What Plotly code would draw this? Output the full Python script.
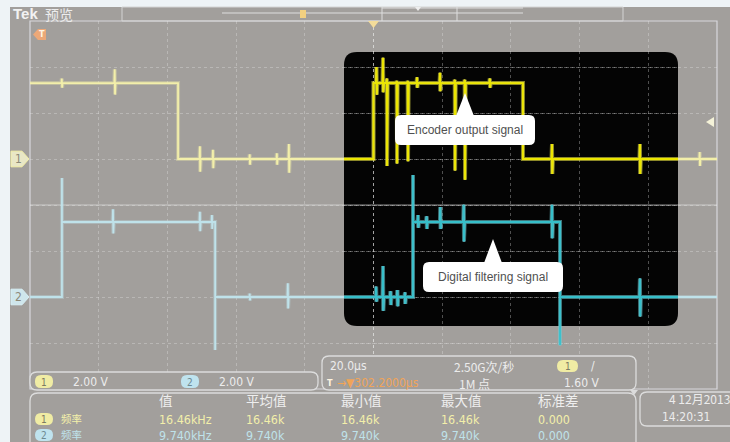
import plotly.graph_objects as go

W, H = 730, 442

# ---------------- data ----------------
T_RANGE = [-100.0, 100.0]        # µs  (20 µs/div, 10 div)
V_RANGE_DIV = [-4.0, 4.0]        # graticule divisions
V_PER_DIV = 2.0                  # both channels 2.00 V/div
CH1_POS = 1.0                    # channel ground marker position (div)
CH2_POS = -2.0

# channel 1 (encoder output)
CH1_EDGE_T = [-56.9, 0.0, 43.5]
CH1_LEVEL = [3.3, 0.0, 3.3, 0.0]
CH1_EDGE_PEAK = [None, None, None]
CH1_SPIKE_T = [-90.7, -75.3, -50.5, -46.7, -36.0, -28.1, -24.6, 0.9, 2.8, 3.9, 6.8, 10.0,
               12.7, 19.4, 23.7, 26.6, 33.9, 52.0, 77.6, 95.0]
CH1_SPIKE_UP = [0.2, 0.6, 0.55, 0.4, 0.2, 0.25, 0.65, 0.7, 1.1, 0.2, 0.1, 0.1,
                0.25, 0.45, 0.15, 0.15, 0.2, 0.65, 0.65, 0.3]
CH1_SPIKE_DN = [0.2, 0.5, 0.55, 0.4, 0.25, 0.25, 0.6, 0.5, 0.4, 3.6, 3.5, 3.4,
                0.2, 0.35, 3.8, 4.2, 0.2, 0.65, 0.65, 0.3]

# channel 2 (digital filtering output)
CH2_EDGE_T = [-90.7, -46.1, 11.5, 54.3]
CH2_LEVEL = [0.0, 3.26, 0.0, 3.26, 0.0]
CH2_EDGE_PEAK = [5.17, -2.3, 5.3, -2.1]
CH2_SPIKE_T = [-75.8, -50.5, -47.0, -36.0, -24.9, 0.8, 2.8, 5.0, 7.0, 9.2,
               13.0, 15.5, 19.5, 26.3, 52.0, 77.6]
CH2_SPIKE_UP = [0.55, 0.45, 0.3, 0.15, 0.6, 0.45, 1.35, 0.25, 0.3, 0.2,
                0.3, 0.25, 0.65, 0.75, 0.75, 0.8]
CH2_SPIKE_DN = [0.5, 0.4, 0.3, 0.15, 0.5, 0.2, 0.6, 0.35, 0.4, 0.3,
                0.25, 0.3, 0.3, 0.85, 0.7, 0.85]

SCALE_LABELS = ["2.00 V", "2.00 V"]
TIMEBASE = "20.0µs"
SAMPLE_RATE = "2.50G次/秒"
TRIG_POS = "302.2000µs"
RECORD_LEN = "1M 点"
TRIG_LEVEL = "1.60 V"
MEAS_HEADERS = ["值", "平均值", "最小值", "最大值", "标准差"]
MEAS_NAME = "频率"
MEAS_CH1 = ["16.46kHz", "16.46k", "16.46k", "16.46k", "0.000"]
MEAS_CH2 = ["9.740kHz", "9.740k", "9.740k", "9.740k", "0.000"]
DATE_TXT = "4 12月2013"
TIME_TXT = "14:20:31"
CALLOUT_1 = "Encoder output signal"
CALLOUT_2 = "Digital filtering signal"

# ---------------- styling / layout constants ----------------
BG = "#a29f9c"
LIGHT = "#eef3f6"
FRAME = "#dcdcdc"
TXT = "#ececec"
Y1 = "#f3efaa"
Y1B = "#ece600"
C2 = "#bfe2ea"
C2B = "#36bfca"
ORANGE = "#f0a458"
FONT = "Liberation Sans Narrow, DejaVu Sans Condensed, Noto Sans CJK SC, sans-serif"
CJK = "Noto Sans CJK SC, sans-serif"

GX0, GX1, GY0, GY1 = 30, 717, 21, 389          # graticule, px
BOX = (344, 52, 678, 326)                       # black highlight box, px


def X(px):
    return px / W


def Y(py):
    return 1 - py / H


def t_of_px(px):
    return T_RANGE[0] + (px - GX0) / (GX1 - GX0) * (T_RANGE[1] - T_RANGE[0])


def rrect(x0, y0, x1, y1, r):
    a, b, c, d = X(x0), Y(y0), X(x1), Y(y1)
    rx, ry = r / W, r / H
    return (f"M{a+rx},{b} L{c-rx},{b} Q{c},{b} {c},{b-ry} L{c},{d+ry} Q{c},{d} {c-rx},{d} "
            f"L{a+rx},{d} Q{a},{d} {a},{d+ry} L{a},{b-ry} Q{a},{b} {a+rx},{b} Z")


def build(edge_t, levels, peaks, spike_t, up, dn, pos):
    events = [(t, 0, i) for i, t in enumerate(edge_t)] + [(t, 1, i) for i, t in enumerate(spike_t)]
    events.sort()
    cur = levels[0]
    ts, vs = [T_RANGE[0]], [cur]
    for t, kind, i in events:
        if kind == 0:
            ts.append(t); vs.append(cur)
            if peaks[i] is not None:
                ts.append(t); vs.append(peaks[i])
            cur = levels[i + 1]
            ts.append(t); vs.append(cur)
        else:
            ts += [t - 0.15, t - 0.04, t + 0.05, t + 0.2]
            vs += [cur, cur + up[i], cur - dn[i], cur]
    ts.append(T_RANGE[1]); vs.append(cur)
    return ts, [v / V_PER_DIV + pos for v in vs]


c1t, c1y = build(CH1_EDGE_T, CH1_LEVEL, CH1_EDGE_PEAK, CH1_SPIKE_T, CH1_SPIKE_UP, CH1_SPIKE_DN, CH1_POS)
c2t, c2y = build(CH2_EDGE_T, CH2_LEVEL, CH2_EDGE_PEAK, CH2_SPIKE_T, CH2_SPIKE_UP, CH2_SPIKE_DN, CH2_POS)

fig = go.Figure()
for xs, ys, col, ax in [(c1t, c1y, Y1, "x"), (c2t, c2y, C2, "x"),
                        (c1t, c1y, Y1B, "x2"), (c2t, c2y, C2B, "x2")]:
    fig.add_trace(go.Scatter(x=xs, y=ys, mode="lines", xaxis=ax, yaxis="y",
                             line=dict(color=col, width=4.0), opacity=0.35,
                             hoverinfo="skip", showlegend=False))
    fig.add_trace(go.Scatter(x=xs, y=ys, mode="lines", xaxis=ax, yaxis="y",
                             line=dict(color=col, width=1.8),
                             hoverinfo="skip", showlegend=False))

shapes = []
ann = []


def rect(x0, y0, x1, y1, fill=None, line=None, lw=1, layer="below"):
    shapes.append(dict(type="rect", xref="paper", yref="paper", x0=X(x0), x1=X(x1), y0=Y(y0), y1=Y(y1),
                       fillcolor=fill or "rgba(0,0,0,0)", line=dict(color=line or "rgba(0,0,0,0)", width=lw),
                       layer=layer))


def seg(x0, y0, x1, y1, col=FRAME, lw=1, dash="solid", layer="below"):
    shapes.append(dict(type="line", xref="paper", yref="paper", x0=X(x0), x1=X(x1), y0=Y(y0), y1=Y(y1),
                       line=dict(color=col, width=lw, dash=dash), layer=layer))


def path(p, fill, line=None, lw=1, layer="above", yref="paper"):
    shapes.append(dict(type="path", xref="paper", yref=yref, path=p, fillcolor=fill,
                       line=dict(color=line or "rgba(0,0,0,0)", width=lw), layer=layer))


def text(px, py, s, col=TXT, size=12, font=FONT, anchor="left", bold=False, yanchor="middle"):
    if bold:
        s = f"<b>{s}</b>"
    ann.append(dict(xref="paper", yref="paper", x=X(px), y=Y(py), text=s, showarrow=False,
                    xanchor=anchor, yanchor=yanchor, borderpad=0, align="left",
                    font=dict(color=col, size=size, family=font)))


def pill(x0, y0, x1, y1, fill, label, tcol="#7d7a62"):
    path(rrect(x0, y0, x1, y1, 6), fill, layer="above")
    text((x0 + x1) / 2, (y0 + y1) / 2 + 0.5, label, col=tcol, size=10, anchor="center")


def two_rows(a, b):
    return f"<span style='color:{Y1}'>{a}</span><br><span style='color:{C2}'>{b}</span>"


# light page margins
rect(0, 0, W, 7, fill=LIGHT)
rect(0, 0, 10, H, fill=LIGHT)

# black highlight box
path(rrect(*BOX, 13), "#040404", layer="below")

# graticule border + crosshair
rect(GX0, GY0, GX1, GY1, line="#d8d8dc", lw=1.2)
seg((GX0 + GX1) / 2, GY0, (GX0 + GX1) / 2, GY1, col="rgba(235,235,235,0.55)", dash="dot")
seg(GX0, (GY0 + GY1) / 2, GX1, (GY0 + GY1) / 2, col="rgba(235,235,235,0.6)")

# top header
text(12, 13, "Tek", col="#f2f2f2", size=15, font="Liberation Sans, sans-serif", bold=True)
text(44, 14, "预览", col="#ececec", size=14, font=CJK)
rect(122, 7, 623, 21, line="#d4d4d4", lw=1)
seg(222, 13, 523, 13, col="#dedede")
seg(382, 8, 523, 8, col="#dedede")
seg(382, 7, 382, 21, col="#dedede")
seg(457, 7, 457, 21, col="#dedede")
rect(300, 10, 306, 18, fill="#f2d080")
path(f"M{X(415)},{Y(7)} L{X(421)},{Y(7)} L{X(418)},{Y(11)} Z", "#eeeeee")
# trigger position marker
path(f"M{X(368)},{Y(21)} L{X(379)},{Y(21)} L{X(373.5)},{Y(28)} Z", "#f3dc9a")
# trigger "T" tag
path(f"M{X(33)},{Y(34.5)} L{X(38)},{Y(29)} L{X(46)},{Y(29)} L{X(46)},{Y(40)} L{X(38)},{Y(40)} Z", "#eca878")
text(41.5, 34.5, "T", col="#fff4e4", size=9, anchor="center", bold=True)
# trigger level arrow (right)
path(f"M{X(706)},{Y(122)} L{X(714)},{Y(117)} L{X(714)},{Y(127)} Z", "#f4f2d8")

# channel ground markers (placed at the channel position on the volt axis)
for pos, fill, edge, lab in [(CH1_POS, "#e9e7c6", "#f4f0a8", "1"), (CH2_POS, "#cfe6ec", "#d8f0f6", "2")]:
    d = 0.17
    p = (f"M{X(11)},{pos+d} L{X(22)},{pos+d} L{X(29)},{pos} L{X(22)},{pos-d} L{X(11)},{pos-d} Z")
    path(p, fill, line=edge, lw=1, yref="y")
    ann.append(dict(xref="paper", yref="y", x=X(18), y=pos, text=lab, showarrow=False,
                    xanchor="center", yanchor="middle", font=dict(color="#8d8a78", size=12, family=FONT)))

# callouts
for (x0, y0, x1, y1), (tx, ty), s in [((395, 115, 535, 145), (465, 93), CALLOUT_1),
                                      ((423, 262, 563, 292), (493, 239), CALLOUT_2)]:
    path(f"M{X(tx-9)},{Y(y0+1)} L{X(tx)},{Y(ty)} L{X(tx+9)},{Y(y0+1)} Z", "#ffffff")
    path(rrect(x0, y0, x1, y1, 6), "#ffffff")
    text((x0 + x1) / 2, (y0 + y1) / 2, s, col="#505050", size=12,
         font="Liberation Sans, Arial, sans-serif", anchor="center")

# ---- bottom readout panels ----
path(rrect(30, 372, 318, 390, 7), BG, line=FRAME, lw=1.3)
path(rrect(322, 356, 636, 390, 7), BG, line=FRAME, lw=1.3)
path(rrect(30, 393, 636, 452, 8), BG, line=FRAME, lw=1.3)
path(rrect(640, 392, 745, 426, 7), BG, line=FRAME, lw=1.3)
path(f"M{X(630)},{Y(390)} L{X(638)},{Y(390)} L{X(634)},{Y(395)} Z", FRAME)

pill(35, 375, 53, 388, "#f0eca4", "1")
text(72, 381.5, SCALE_LABELS[0])
pill(181, 375, 199, 388, "#bfe3ee", "2", tcol="#6e8a92")
text(218, 381.5, SCALE_LABELS[1])

text(329, 366, TIMEBASE)
text(453, 366, SAMPLE_RATE, font=CJK, size=12)
pill(557, 360, 578, 372, "#f0eca4", "1")
text(590, 366, "/")
rect(325, 377, 335, 389, fill="#eca060")
text(330, 383, "T", col="#fff4e0", size=9, anchor="center", bold=True)
text(336, 383, "→▼" + TRIG_POS, col=ORANGE, size=12)
text(458, 383, RECORD_LEN, font=CJK, size=12)
text(563, 383, TRIG_LEVEL)

COLS = [158, 245, 340, 440, 537]
for hx, h in zip(COLS, MEAS_HEADERS):
    text(hx, 410.5, h, font=CJK, size=13.5, col="#eeeeee", yanchor="bottom")
pill(35, 413, 53, 425, "#f0eca4", "1")
pill(35, 429, 53, 441, "#bfe3ee", "2", tcol="#6e8a92")
text(60, 418.8, MEAS_NAME, col=Y1, font=CJK, size=10.4)
text(60, 434.3, MEAS_NAME, col=C2, font=CJK, size=10.4)
for vx, a, b in zip(COLS, MEAS_CH1, MEAS_CH2):
    text(vx, 410.5, two_rows(a, b), size=12.4, yanchor="top")

text(668, 408, DATE_TXT, font=CJK, size=12, yanchor="bottom")
text(661, 408.5, TIME_TXT, size=12, yanchor="top")

bx0, bx1 = BOX[0], BOX[2]
fig.update_layout(
    width=W, height=H, margin=dict(l=0, r=0, t=0, b=0),
    paper_bgcolor=BG, plot_bgcolor="rgba(0,0,0,0)",
    shapes=shapes, annotations=ann, showlegend=False,
    xaxis=dict(domain=[X(GX0), X(GX1)], range=T_RANGE, dtick=20, tick0=T_RANGE[0],
               showgrid=True, gridcolor="rgba(235,235,235,0.33)", griddash="dot", gridwidth=1,
               zeroline=False, showticklabels=False, ticks="", showline=False, fixedrange=True),
    xaxis2=dict(domain=[X(bx0), X(bx1)], range=[t_of_px(bx0), t_of_px(bx1)], anchor="y",
                visible=False, showgrid=False, zeroline=False, fixedrange=True),
    yaxis=dict(domain=[Y(GY1), Y(GY0)], range=V_RANGE_DIV, dtick=1,
               showgrid=True, gridcolor="rgba(235,235,235,0.33)", griddash="dot", gridwidth=1,
               zeroline=False, showticklabels=False, ticks="", showline=False, fixedrange=True),
)

fig.write_html("out.html", config={"displayModeBar": False},
               post_script="document.body.style.margin='0';document.body.style.overflow='hidden';")
